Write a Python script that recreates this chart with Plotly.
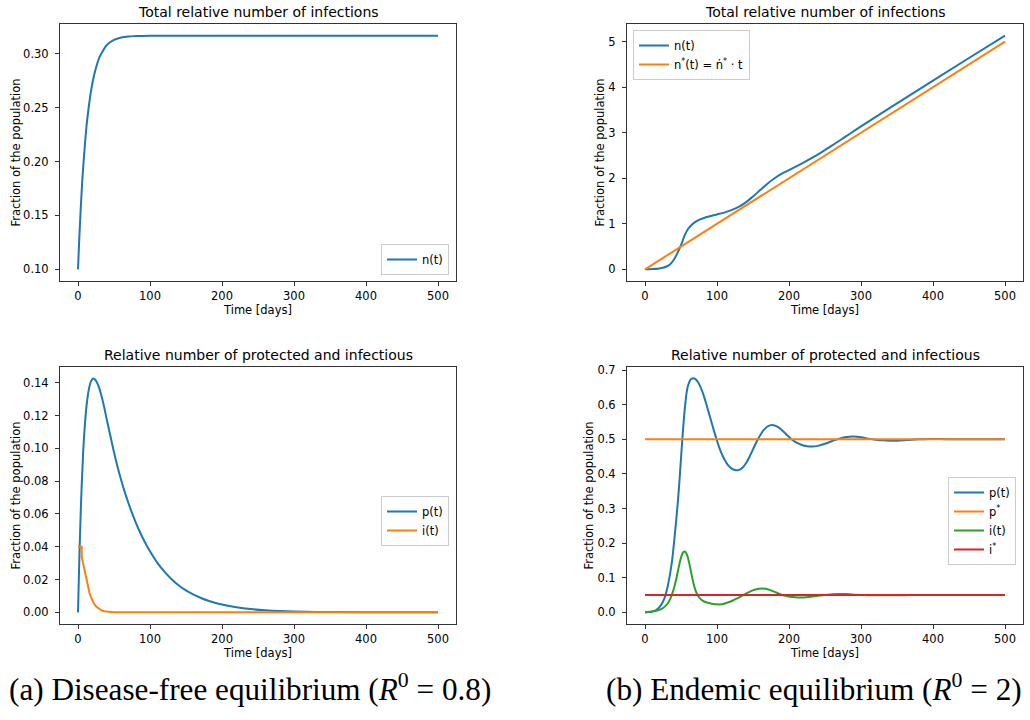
import plotly.graph_objects as go

# ---------------- data ----------------
# (a) disease-free: total relative number of infections
t_na = [0, 2, 4, 6, 8, 10, 12, 15, 18, 21, 25, 30, 35, 40, 50, 60, 70, 80, 100, 150, 200, 300, 400, 500]
n_a = [0.100, 0.132, 0.159, 0.183, 0.202, 0.219, 0.234, 0.251, 0.265, 0.276, 0.287, 0.297, 0.303,
       0.308, 0.3127, 0.3149, 0.3159, 0.3163, 0.3166, 0.3167, 0.3167, 0.3167, 0.3167, 0.3167]

# (a) protected and infectious
t_pa = [0, 1, 2, 3, 5, 7, 9, 12, 15, 18, 21, 24, 28, 32, 36, 40, 45, 50, 55, 60, 65, 70, 75, 80, 85,
        90, 95, 100, 110, 120, 130, 140, 150, 160, 170, 180, 190, 200, 210, 225, 240, 260, 280, 300,
        350, 400, 450, 500]
p_a = [0.0, 0.018, 0.035, 0.050, 0.076, 0.096, 0.111, 0.1265, 0.1358, 0.1408, 0.1426, 0.1418,
       0.1385, 0.1330, 0.1258, 0.1175, 0.1075, 0.0976, 0.0886, 0.0806, 0.0733, 0.0667, 0.0606,
       0.0550, 0.0499, 0.0453, 0.0411, 0.0372, 0.0303, 0.0248, 0.0202, 0.0164, 0.0134, 0.0109,
       0.0089, 0.0072, 0.0059, 0.0048, 0.0039, 0.0028, 0.0020, 0.0013, 0.0008, 0.0005, 0.0002,
       0.00007, 0.00002, 0.00001]
t_ia = [0, 5, 5.3, 6, 7, 8, 9, 10, 12, 14, 16, 18, 20, 22, 25, 28, 32, 36, 40, 50, 60, 100, 200, 300, 400, 500]
i_a = [0.040, 0.040, 0.0335, 0.032, 0.0305, 0.028, 0.0255, 0.023, 0.0187, 0.0150, 0.0118, 0.0093,
       0.0072, 0.0055, 0.0037, 0.0024, 0.0013, 0.0007, 0.0004, 0.0001, 0.0, 0.0, 0.0, 0.0, 0.0, 0.0]

# (b) endemic: total relative number of infections
t_nb = [0, 10, 20, 25, 30, 35, 40, 45, 50, 55, 60, 65, 70, 75, 80, 90, 100, 110, 120, 130, 140, 150,
        160, 170, 180, 190, 200, 215, 230, 245, 260, 280, 300, 350, 400, 450, 500]
n_b = [0.0, 0.005, 0.02, 0.035, 0.062, 0.11, 0.21, 0.355, 0.53, 0.74, 0.89, 0.98, 1.04, 1.085, 1.115,
       1.165, 1.205, 1.245, 1.30, 1.37, 1.47, 1.60, 1.74, 1.88, 2.00, 2.10, 2.18, 2.30, 2.43, 2.57, 2.72,
       2.93, 3.14, 3.645, 4.145, 4.64, 5.13]
t_line = [0, 500]
n_star = [0.0, 5.0]

# (b) protected and infectious
t_pb = [0, 10, 16, 22, 27, 32, 37, 40, 43, 47, 50, 52, 54, 56, 58, 60, 62, 64, 66, 68, 70, 73, 76, 80,
        84, 88, 92, 96, 100, 105, 110, 115, 120, 125, 130, 135, 140, 145, 150, 155, 160, 165, 170,
        175, 180, 185, 190, 195, 200, 205, 210, 215, 220, 225, 232, 240, 250, 260, 270, 280, 290,
        300, 310, 320, 330, 340, 350, 365, 380, 395, 410, 430, 460, 500]
p_b = [0.000, 0.002, 0.007, 0.020, 0.040, 0.080, 0.140, 0.195, 0.258, 0.355, 0.445, 0.505, 0.560,
       0.603, 0.638, 0.657, 0.668, 0.674, 0.676, 0.676, 0.674, 0.667, 0.656, 0.636, 0.610, 0.581,
       0.552, 0.523, 0.496, 0.466, 0.443, 0.426, 0.416, 0.411, 0.411, 0.417, 0.430, 0.449, 0.471,
       0.493, 0.512, 0.527, 0.537, 0.541, 0.540, 0.535, 0.527, 0.517, 0.507, 0.498, 0.491, 0.486,
       0.482, 0.480, 0.479, 0.481, 0.487, 0.495, 0.502, 0.507, 0.508, 0.506, 0.502, 0.499, 0.497,
       0.496, 0.496, 0.498, 0.500, 0.501, 0.501, 0.500, 0.500, 0.500]
t_ib = [0, 10, 20, 26, 32, 36, 40, 44, 47, 50, 52, 54, 56, 58, 60, 62, 64, 66, 68, 70, 73, 76, 80, 85,
        90, 95, 100, 105, 110, 116, 122, 128, 134, 140, 146, 152, 158, 163, 168, 174, 180, 186, 192,
        198, 205, 212, 220, 230, 240, 250, 260, 268, 278, 290, 305, 320, 335, 350, 370, 400, 450, 500]
i_b = [0.000, 0.002, 0.007, 0.014, 0.027, 0.043, 0.068, 0.102, 0.132, 0.158, 0.170, 0.175, 0.175,
       0.168, 0.155, 0.137, 0.116, 0.096, 0.078, 0.064, 0.050, 0.041, 0.034, 0.029, 0.026, 0.024,
       0.023, 0.023, 0.025, 0.029, 0.034, 0.040, 0.047, 0.054, 0.060, 0.065, 0.068, 0.069, 0.068,
       0.064, 0.059, 0.054, 0.049, 0.046, 0.044, 0.043, 0.043, 0.045, 0.048, 0.050, 0.052, 0.053,
       0.053, 0.051, 0.050, 0.049, 0.049, 0.049, 0.050, 0.050, 0.050, 0.050]
p_star = [0.5, 0.5]
i_star = [0.05, 0.05]

x_ticks = [0, 100, 200, 300, 400, 500]
y_ticks_na = [0.10, 0.15, 0.20, 0.25, 0.30]
y_ticks_pa = [0.00, 0.02, 0.04, 0.06, 0.08, 0.10, 0.12, 0.14]
y_ticks_nb = [0, 1, 2, 3, 4, 5]
y_ticks_pb = [0.0, 0.1, 0.2, 0.3, 0.4, 0.5, 0.6, 0.7]

# ---------------- styling ----------------
W, H = 1030, 720
BLUE, ORANGE, GREEN, RED = "#1f77b4", "#ff7f0e", "#2ca02c", "#d62728"
FONT = "DejaVu Sans"
FS = 11.5
LW = 2


def px(x):
    return x / W


def py(y):
    return 1 - y / H


fig = go.Figure()


def line(x, y, name, color, xa, ya, leg, shape="spline"):
    ln = dict(color=color, width=LW, shape=shape)
    if shape == "spline":
        ln["smoothing"] = 1.0
    fig.add_trace(go.Scatter(
        x=x, y=y, name=name, mode="lines", line=ln,
        xaxis=xa, yaxis=ya, legend=leg, hoverinfo="skip"))


line(t_na, n_a, "n(t)", BLUE, "x", "y", "legend")
line(t_nb, n_b, "n(t)", BLUE, "x2", "y2", "legend2")
line(t_line, n_star, "n<sup>*</sup>(t) = ṅ<sup>*</sup> · t", ORANGE, "x2", "y2", "legend2", "linear")
line(t_pa, p_a, "p(t)", BLUE, "x3", "y3", "legend3")
line(t_ia, i_a, "i(t)", ORANGE, "x3", "y3", "legend3", "linear")
line(t_pb, p_b, "p(t)", BLUE, "x4", "y4", "legend4")
line(t_line, p_star, "p<sup>*</sup>", ORANGE, "x4", "y4", "legend4", "linear")
line(t_ib, i_b, "i(t)", GREEN, "x4", "y4", "legend4")
line(t_line, i_star, "i<sup>*</sup>", RED, "x4", "y4", "legend4", "linear")

axis_common = dict(
    showgrid=False, zeroline=False, showline=True, mirror=True,
    linecolor="#333333", linewidth=1, ticks="outside", ticklen=4, tickwidth=1,
    tickcolor="#333333", tickfont=dict(family=FONT, size=FS, color="black"),
    automargin=False,
)

# plot areas in pixels: (left, right, top, bottom)
areas = [
    (60, 456, 24, 281),
    (627, 1023, 24, 281),
    (60, 456, 367, 624),
    (627, 1023, 367, 624),
]
yranges = [[0.0892, 0.3275], [-0.2565, 5.387], [-0.0071, 0.1496], [-0.0338, 0.709]]
yticks = [y_ticks_na, y_ticks_nb, y_ticks_pa, y_ticks_pb]
yfmts = [".2f", "d", ".2f", ".1f"]
ystand = [0, 1, 0, 1]

layout = dict(
    width=W, height=H, margin=dict(l=0, r=0, t=0, b=0),
    paper_bgcolor="white", plot_bgcolor="white",
    font=dict(family=FONT, size=FS, color="black"),
    showlegend=True,
)

for k, (l, r, t, b) in enumerate(areas):
    sx = "" if k == 0 else str(k + 1)
    layout["xaxis" + sx] = dict(
        axis_common, domain=[px(l), px(r)], range=[-25, 525], tickvals=x_ticks,
        anchor="y" + sx,
        title=dict(text="Time [days]", font=dict(family=FONT, size=FS), standoff=2),
    )
    layout["yaxis" + sx] = dict(
        axis_common, domain=[py(b), py(t)], range=yranges[k], tickvals=yticks[k],
        tickformat=yfmts[k], anchor="x" + sx, ticklabelstandoff=4,
        title=dict(text="Fraction of the population", font=dict(family=FONT, size=FS),
                   standoff=ystand[k]),
    )

legend_common = dict(
    bgcolor="rgba(255,255,255,0.8)", bordercolor="#cccccc", borderwidth=1,
    font=dict(family=FONT, size=FS, color="black"), tracegroupgap=0,
)
layout["legend"] = dict(legend_common, x=px(449), y=py(275), xanchor="right", yanchor="bottom")
layout["legend2"] = dict(legend_common, x=px(633), y=py(30), xanchor="left", yanchor="top")
layout["legend3"] = dict(legend_common, x=px(449), y=py(521), xanchor="right", yanchor="middle")
layout["legend4"] = dict(legend_common, x=px(1016), y=py(521), xanchor="right", yanchor="middle")

fig.update_layout(**layout)

titles = [
    ("Total relative number of infections", 258, 12),
    ("Total relative number of infections", 825, 12),
    ("Relative number of protected and infectious", 258, 355),
    ("Relative number of protected and infectious", 825, 355),
]
for text, x, y in titles:
    fig.add_annotation(text=text, x=px(x), y=py(y), xref="paper", yref="paper",
                       xanchor="center", yanchor="middle", showarrow=False,
                       font=dict(family=FONT, size=14, color="black"))

captions = [
    ("(a) Disease-free equilibrium (<i>R</i><sup>0</sup> = 0.8)", 7),
    ("(b) Endemic equilibrium (<i>R</i><sup>0</sup> = 2)", 604),
]
for text, x in captions:
    fig.add_annotation(text=text, x=px(x), y=py(687), xref="paper", yref="paper",
                       xanchor="left", yanchor="middle", showarrow=False,
                       font=dict(family="Liberation Serif", size=31.2, color="black"))

fig.write_html(
    "out.html",
    config={"displayModeBar": False},
    post_script="document.body.style.margin='0px';document.body.style.overflow='hidden';",
)
